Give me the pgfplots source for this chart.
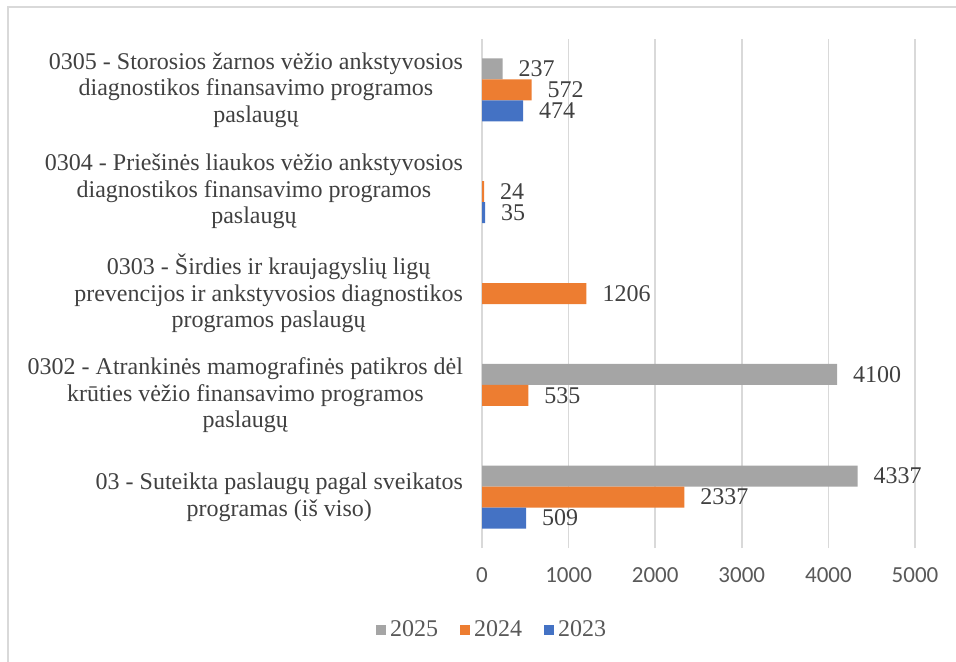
\documentclass[border=0pt]{standalone}
\usepackage{fontspec}
\setmainfont{Liberation Serif}
\newfontfamily\calibri{Carlito}
\usepackage{pgfplots}
\pgfplotsset{compat=1.18}

\definecolor{c25}{HTML}{A5A5A5}
\definecolor{c24}{HTML}{ED7D31}
\definecolor{c23}{HTML}{4472C4}
\definecolor{txt}{HTML}{404040}
\definecolor{tick}{HTML}{595959}
\definecolor{gridc}{HTML}{D9D9D9}

\begin{document}
\begin{tikzpicture}
% 1 px of the reference = 0.5pt
\path[use as bounding box] (0pt,0pt) rectangle (478pt,330.5pt);
\draw[gridc,line width=0.6pt] (4pt,-10pt) -- (4pt,327pt) -- (490pt,327pt);
\begin{axis}[
    at={(241pt,56.5pt)}, anchor=south west,
    scale only axis,
    width=216.5pt, height=254.5pt,
    xmin=0, xmax=5000,
    ymin=-0.5, ymax=4.5,
    xtick={0,1000,...,5000},
    ytick={0,1,2,3,4},
    yticklabels={
        {03 - Suteikta paslaugų pagal sveikatos\\programas (iš viso)},
        {0302 - Atrankinės mamografinės patikros dėl\\krūties vėžio finansavimo programos\\paslaugų},
        {0303 - Širdies ir kraujagyslių ligų\\prevencijos ir ankstyvosios diagnostikos\\programos paslaugų},
        {0304 - Priešinės liaukos vėžio ankstyvosios\\diagnostikos finansavimo programos\\paslaugų},
        {0305 - Storosios žarnos vėžio ankstyvosios\\diagnostikos finansavimo programos\\paslaugų}},
    yticklabel style={align=center, font=\fontsize{12}{13.25}\selectfont,
        text=txt, xshift=-6pt},
    xticklabel style={font=\calibri\fontsize{11.5}{13}\selectfont, text=tick,
        yshift=-6pt},
    /pgf/number format/assume math mode=true,
    /pgf/number format/1000 sep={},
    scaled x ticks=false,
    xticklabel={\pgfmathprintnumber[fixed]{\tick}},
    major tick length=0pt,
    axis line style={draw=none},
    xmajorgrids=true,
    grid style={gridc, line width=0.8pt},
    xbar, bar width=10.5pt,
    nodes near coords={\pgfmathprintnumber[1000 sep={}]{\pgfplotspointmeta}},
    nodes near coords style={font=\fontsize{12}{13}\selectfont, text=txt,
        anchor=west, xshift=4.5pt},
    clip=false,
    legend style={at={(0.0254,-0.161)}, anchor=center, draw=none,
        legend columns=3, font=\fontsize{12}{13}\selectfont, text=tick,
        /tikz/every even column/.append style={column sep=9pt}},
    legend image code/.code={\fill[#1] (0pt,-2.5pt) rectangle (5pt,2.5pt);},
]
\addplot[fill=c25, draw=none, bar shift=10.5pt] coordinates {(4337,0) (4100,1) (237,4)};
\addplot[fill=c24, draw=none, bar shift=0pt] coordinates {(2337,0) (535,1) (1206,2) (24,3) (572,4)};
\addplot[fill=c23, draw=none, bar shift=-10.5pt] coordinates {(509,0) (35,3) (474,4)};
\legend{2025,2024,2023}
\end{axis}
\end{tikzpicture}
\end{document}
